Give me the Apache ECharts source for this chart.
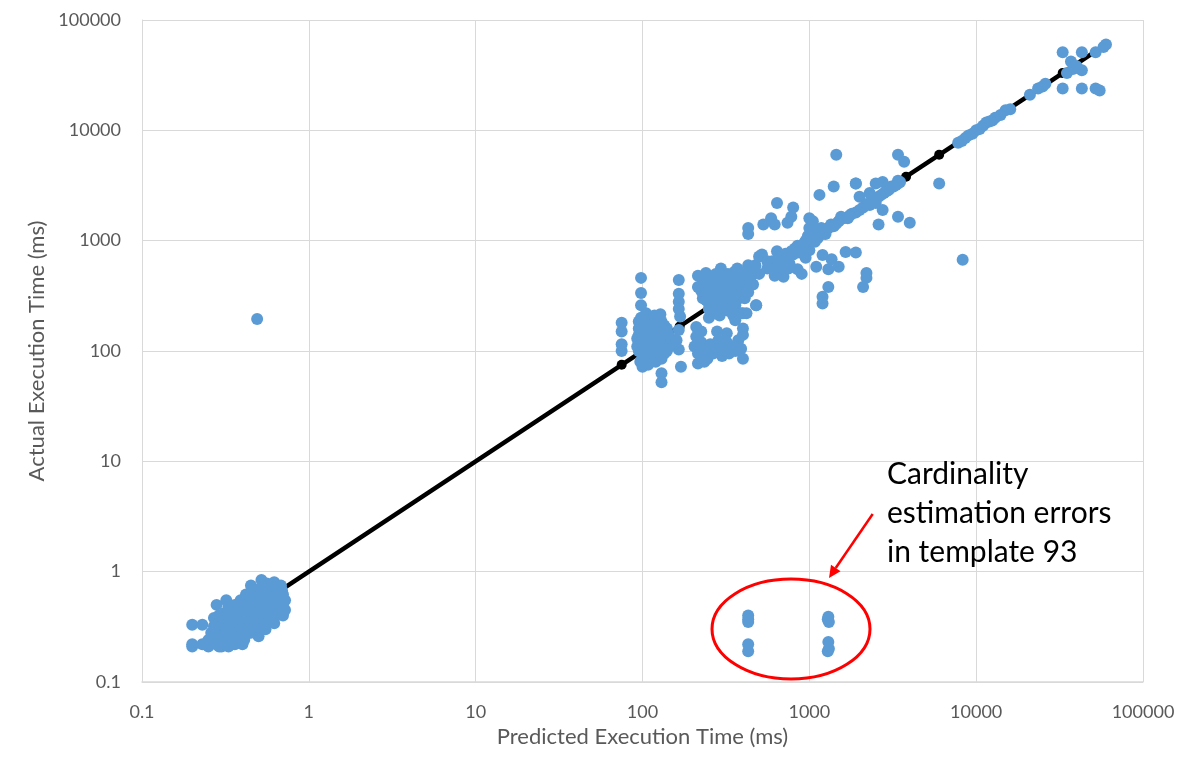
<!DOCTYPE html>
<html>
<head>
<meta charset="utf-8">
<title>Predicted vs Actual Execution Time</title>
<script src="https://cdn.jsdelivr.net/npm/echarts@6/dist/echarts.min.js"></script>
<style>
  html, body { margin: 0; padding: 0; background: #fff; }
  #main { width: 1196px; height: 779px; }
</style>
</head>
<body>
<div id="main"></div>
<script>
// [predicted ms, actual ms]
var lowCluster = [
  [0.2, 0.33], [0.2, 0.21], [0.2, 0.22], [0.23, 0.33], [0.24, 0.22], [0.25, 0.21],
  [0.27, 0.25], [0.28, 0.3], [0.28, 0.22], [0.3, 0.21], [0.3, 0.27], [0.3, 0.35],
  [0.31, 0.42], [0.32, 0.3], [0.33, 0.24], [0.34, 0.38], [0.35, 0.45], [0.35, 0.32],
  [0.36, 0.22], [0.37, 0.28], [0.38, 0.5], [0.38, 0.36], [0.4, 0.42], [0.4, 0.3],
  [0.41, 0.24], [0.42, 0.55], [0.43, 0.35], [0.44, 0.47], [0.45, 0.28], [0.46, 0.4],
  [0.48, 0.6], [0.48, 0.33], [0.5, 0.5], [0.5, 0.38], [0.52, 0.44], [0.52, 0.84],
  [0.53, 0.65], [0.55, 0.55], [0.56, 0.36], [0.57, 0.72], [0.58, 0.48], [0.6, 0.6],
  [0.6, 0.42], [0.62, 0.8], [0.63, 0.52], [0.65, 0.65], [0.66, 0.45], [0.67, 0.58],
  [0.68, 0.75], [0.45, 0.75], [0.42, 0.62], [0.33, 0.48], [0.27, 0.38], [0.28, 0.5],
  [0.32, 0.55], [0.4, 0.22], [0.5, 0.26], [0.55, 0.3], [0.62, 0.34], [0.7, 0.4],
  [0.7, 0.5], [0.7, 0.62],
  [0.26, 0.28], [0.27, 0.32], [0.29, 0.26], [0.29, 0.4], [0.31, 0.24], [0.31, 0.33],
  [0.33, 0.28], [0.33, 0.4], [0.34, 0.22], [0.35, 0.26], [0.36, 0.35], [0.36, 0.5],
  [0.37, 0.42], [0.38, 0.24], [0.39, 0.32], [0.39, 0.55], [0.41, 0.38], [0.41, 0.48],
  [0.42, 0.27], [0.43, 0.44], [0.44, 0.32], [0.44, 0.58], [0.46, 0.5], [0.47, 0.36],
  [0.47, 0.68], [0.49, 0.44], [0.5, 0.3], [0.51, 0.56], [0.51, 0.7], [0.53, 0.4],
  [0.54, 0.48], [0.55, 0.62], [0.56, 0.78], [0.57, 0.42], [0.58, 0.55], [0.59, 0.68],
  [0.61, 0.5], [0.62, 0.38], [0.64, 0.6], [0.64, 0.72], [0.66, 0.52], [0.68, 0.42],
  [0.69, 0.68], [0.72, 0.55], [0.72, 0.45], [0.25, 0.24], [0.23, 0.22], [0.29, 0.21],
  [0.33, 0.21], [0.4, 0.26], [0.46, 0.3], [0.52, 0.33], [0.58, 0.38]
];

var cluster100 = [
  [75, 180], [75, 150], [75, 115], [75, 100],
  [98, 460], [98, 335], [98, 260],
  [95, 100], [95, 120], [95, 140], [95, 160], [95, 185],
  [100, 90], [100, 110], [100, 130], [100, 150], [100, 175], [100, 72],
  [105, 220], [105, 100], [105, 125], [105, 145], [105, 195],
  [110, 85], [110, 115], [110, 135], [110, 165], [110, 205],
  [115, 95], [115, 120], [115, 150], [115, 180],
  [120, 80], [120, 105], [120, 140], [120, 190],
  [125, 95], [125, 125], [125, 160], [125, 200],
  [130, 185], [130, 150], [130, 110], [130, 85], [130, 63], [130, 52],
  [140, 130], [140, 160], [140, 100], [140, 115],
  [97, 80], [102, 200], [107, 160], [108, 75], [112, 100], [113, 190], [117, 130],
  [118, 165], [122, 95], [122, 120], [127, 110], [127, 175], [132, 135], [135, 95],
  [135, 170], [137, 125], [142, 145], [145, 110], [145, 135], [103, 115], [98, 150],
  [98, 200], [93, 130], [93, 110], [108, 140], [118, 210], [128, 215],
  [165, 440], [165, 330], [165, 280], [165, 240], [168, 205], [165, 155],
  [160, 125], [165, 103], [170, 72]
];

var cluster300 = [
  [215, 480], [215, 380], [230, 300], [230, 420], [240, 510], [245, 350], [250, 270],
  [255, 440], [260, 230], [265, 380], [270, 320], [275, 500], [280, 420], [285, 270],
  [290, 360], [295, 560], [300, 300], [300, 460], [310, 400], [315, 240], [320, 340],
  [325, 500], [330, 280], [335, 440], [340, 380], [350, 320], [355, 520], [360, 260],
  [365, 420], [370, 350], [380, 300], [385, 470], [390, 220], [400, 380], [410, 300],
  [420, 440], [430, 340], [440, 520], [450, 580], [460, 400], [250, 200], [290, 210],
  [360, 190], [400, 160], [420, 220], [480, 260], [210, 165], [225, 150],
  [225, 350], [235, 460], [250, 400], [260, 320], [270, 450], [280, 300], [290, 480],
  [300, 390], [310, 330], [320, 450], [330, 420], [340, 300], [350, 470], [360, 360],
  [370, 440], [380, 400], [390, 330], [400, 450], [410, 500], [420, 360], [440, 440],
  [450, 480], [460, 520], [475, 600], [430, 600], [370, 560], [240, 290], [250, 240],
  [270, 220], [300, 250], [330, 230], [350, 210],
  [205, 110], [215, 95], [225, 120], [235, 100], [245, 85], [255, 115], [265, 95],
  [275, 110], [285, 125], [300, 90], [310, 105], [320, 120], [330, 95], [345, 110],
  [360, 100], [375, 125], [390, 105], [400, 85], [215, 77], [235, 80],
  [280, 150], [320, 145], [400, 140], [210, 135]
];

var cluster1000 = [
  [430, 1300], [430, 1150], [530, 1400], [590, 1600], [620, 1400], [640, 2200],
  [800, 2000], [780, 1650], [740, 1450], [1150, 2600], [1400, 3100], [1900, 3300],
  [1000, 1300], [1050, 1500], [1100, 1250], [1000, 1600],
  [380, 470], [420, 500], [460, 570], [500, 720], [500, 500], [520, 750], [560, 650],
  [600, 550], [640, 800], [680, 700], [700, 470], [760, 620], [800, 750], [850, 900],
  [900, 500], [900, 880], [950, 1000], [1000, 950], [1050, 1050], [1100, 1100],
  [1150, 1200], [1200, 1150], [1270, 1260], [1350, 1400], [1400, 1350], [1500, 1500],
  [1600, 1600], [1750, 1700], [1900, 1800], [2100, 2000], [2300, 2100], [2500, 2200],
  [2600, 2500], [2800, 2700], [3000, 2900], [3100, 3100], [3300, 3200],
  [560, 560], [600, 650], [620, 480], [660, 560], [700, 560], [720, 760], [740, 700],
  [780, 800], [820, 850], [870, 780], [930, 950], [980, 1100], [1020, 1200],
  [1080, 980], [1120, 1050], [1180, 1300], [1250, 1150], [1300, 1300], [1450, 1420],
  [1550, 1650], [1700, 1600], [1800, 1750], [2000, 1900], [2200, 2150], [2400, 2350],
  [2700, 2600], [2900, 2800], [3200, 3100], [3400, 3300],
  [1200, 740], [1360, 680], [1500, 580], [1650, 790], [1900, 780], [1100, 580],
  [1300, 550], [2200, 510], [2200, 460], [2100, 380], [1300, 380], [1200, 310],
  [1200, 270], [480, 260], [400, 220], [700, 650], [750, 560], [650, 600], [850, 550],
  [950, 700], [1000, 820],
  [1450, 6000], [3400, 6000], [3700, 5200], [6000, 3300], [8300, 670], [1900, 3300],
  [2500, 3300], [2750, 3400], [3400, 3500], [2750, 1900], [3400, 1650], [4000, 1450],
  [2600, 1400], [3000, 3000], [3500, 3400], [2000, 2500], [2300, 2700]
];

var cluster10000 = [
  [7800, 7700], [8200, 8000], [8600, 8500], [9000, 9000], [9500, 9300], [10000, 10000],
  [10500, 10300], [11000, 11000], [11500, 11800], [12000, 12000], [12500, 12300],
  [13000, 13000], [14000, 13800], [15000, 15200], [16000, 15500], [21000, 21000],
  [23500, 24000], [25000, 25000], [26000, 26500], [33000, 51000], [43000, 51000],
  [52000, 51000], [60000, 60000], [58000, 57000], [37000, 42000], [40000, 38000],
  [43000, 35000], [38000, 36000], [35000, 33000], [33000, 24000], [43000, 24000],
  [52000, 24000], [55000, 23000]
];

var outliers = [[0.49, 195]];

// template 93: badly underestimated cardinality
var template93 = [
  [430, 0.40], [430, 0.37], [430, 0.35], [430, 0.22], [430, 0.19],
  [1300, 0.39], [1290, 0.37], [1310, 0.35], [1300, 0.23], [1290, 0.19], [1310, 0.2]
];

// y = x reference line, black dots where they show
var fitX = [0.24, 0.72, 75, 167, 3800, 6000, 21000, 33000, 60000];
var fitDot = [false, false, true, true, true, true, true, true, false];

var xTitle = 'Predicted Execution Time (ms)';
var yTitle = 'Actual Execution Time (ms)';
var note = ['Cardinality', 'estimation errors', 'in template 93'];

var blue = '#5B9BD5';
var grey = '#595959';
var font = 'Lato, "Open Sans", sans-serif';

var points = [].concat(lowCluster, cluster100, cluster300, cluster1000, cluster10000, outliers, template93);
var fitLine = fitX.map(function (v) { return [v, v]; });

function tickText(v) {
    return String(+Number(v).toPrecision(6));
}

var myChart = echarts.init(document.getElementById('main'));

var option = {
    animation: false,
    backgroundColor: '#fff',
    grid: { left: 142, top: 20, right: 53, bottom: 97 },
    xAxis: {
        type: 'log',
        logBase: 10,
        min: 0.1,
        max: 100000,
        name: xTitle,
        nameLocation: 'middle',
        nameGap: 42,
        nameTextStyle: { color: grey, fontSize: 22, fontFamily: font },
        axisLine: { show: true, lineStyle: { color: '#D9D9D9', width: 1.5 } },
        axisTick: { show: false },
        axisLabel: { color: grey, fontSize: 18, fontFamily: font, margin: 21, formatter: tickText },
        splitLine: { show: true, lineStyle: { color: '#D9D9D9', width: 1 } },
        minorTick: { show: false }
    },
    yAxis: {
        type: 'log',
        logBase: 10,
        min: 0.1,
        max: 100000,
        name: yTitle,
        nameLocation: 'middle',
        nameGap: 90,
        nameTextStyle: { color: grey, fontSize: 22, fontFamily: font },
        axisLine: { show: true, lineStyle: { color: '#D9D9D9', width: 1 } },
        axisTick: { show: false },
        axisLabel: { color: grey, fontSize: 18, fontFamily: font, margin: 21, formatter: tickText },
        splitLine: { show: true, lineStyle: { color: '#D9D9D9', width: 1 } }
    },
    series: [{
        name: 'fit',
        type: 'line',
        data: fitLine,
        z: 2,
        symbol: 'circle',
        showAllSymbol: true,
        symbolSize: function (val, params) {
            return fitDot[params.dataIndex] ? 10 : 0;
        },
        lineStyle: { color: '#000', width: 4.5 },
        itemStyle: { color: '#000' }
    }, {
        name: 'queries',
        type: 'scatter',
        data: points,
        z: 3,
        symbol: 'circle',
        symbolSize: 12,
        itemStyle: { color: blue, opacity: 1 }
    }],
    graphic: [{
        type: 'ellipse',
        shape: { cx: 791, cy: 629, rx: 79, ry: 50 },
        style: { fill: 'none', stroke: '#FF0000', lineWidth: 3 },
        z: 10
    }, {
        type: 'line',
        shape: { x1: 872.7, y1: 514, x2: 835.7, y2: 568 },
        style: { stroke: '#FF0000', lineWidth: 2.5 },
        z: 10
    }, {
        type: 'polygon',
        shape: { points: [[829, 578], [840.5, 571.2], [831, 564.8]] },
        style: { fill: '#FF0000' },
        z: 10
    }, {
        type: 'text',
        left: 887,
        top: 455,
        style: {
            text: note.join('\n'),
            fill: '#000',
            font: '30px ' + font,
            lineHeight: 39
        },
        z: 10
    }]
};

myChart.setOption(option);
</script>
</body>
</html>
